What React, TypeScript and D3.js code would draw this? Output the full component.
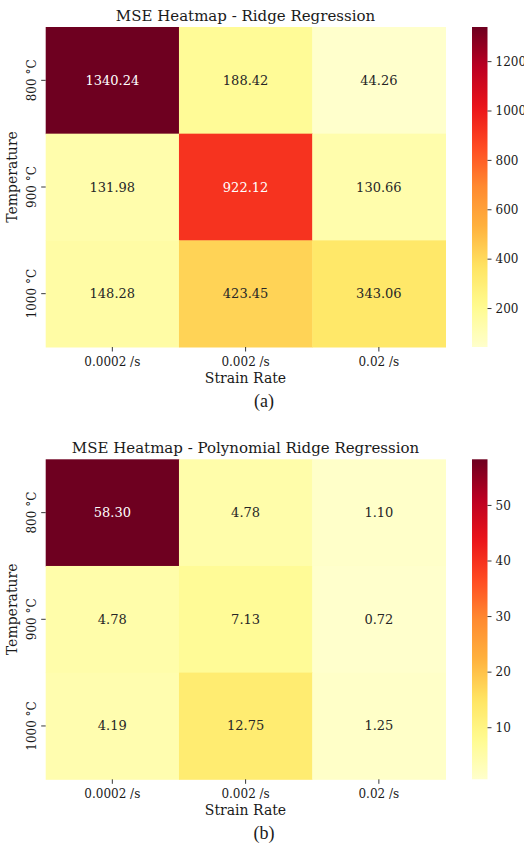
import React from "react";
import * as d3 from "d3";

const WIDTH = 524;
const HEIGHT = 853;
const FONT = "'DejaVu Serif', serif";

const strainRates = ["0.0002 /s", "0.002 /s", "0.02 /s"];
const temperatures = ["800 °C", "900 °C", "1000 °C"];

const ridgeMse = [
  [1340.24, 188.42, 44.26],
  [131.98, 922.12, 130.66],
  [148.28, 423.45, 343.06],
];
const polyRidgeMse = [
  [58.3, 4.78, 1.1],
  [4.78, 7.13, 0.72],
  [4.19, 12.75, 1.25],
];
const ridgeTicks = [200, 400, 600, 800, 1000, 1200];
const polyTicks = [10, 20, 30, 40, 50];

// YlOrRd, nudged a bit more saturated to match the printed figure
const YLORRD = [
  "#ffffcc",
  "#fffb90",
  "#ffe462",
  "#ffb23e",
  "#ff8a30",
  "#ff4a22",
  "#ea141a",
  "#bb0022",
  "#6e0020",
];

function makeColor(vmin: number, vmax: number) {
  const domain = YLORRD.map((_, i) => vmin + (i * (vmax - vmin)) / (YLORRD.length - 1));
  return d3.scaleLinear<string>().domain(domain).range(YLORRD).interpolate(d3.interpolateRgb);
}

// seaborn picks annotation colour from relative luminance
function textColor(fill: string) {
  const c = d3.rgb(fill);
  const lin = (v: number) => {
    const s = v / 255;
    return s <= 0.03928 ? s / 12.92 : Math.pow((s + 0.055) / 1.055, 2.4);
  };
  const lum = 0.2126 * lin(c.r) + 0.7152 * lin(c.g) + 0.0722 * lin(c.b);
  return lum > 0.408 ? "#262626" : "#ffffff";
}

function Heatmap({ top, title, values, ticks, caption, id }: any) {
  const left = 45.7;
  const right = 445.5;
  const h = 320;
  const bottom = top + h;

  const flat = values.flat();
  const vmin = d3.min(flat) as number;
  const vmax = d3.max(flat) as number;
  const color = makeColor(vmin, vmax);

  const x = d3.scaleBand().domain(strainRates).range([left, right]);
  const y = d3.scaleBand().domain(temperatures).range([top, bottom]);

  const cbX = 472;
  const cbW = 15.5;
  const cbScale = d3.scaleLinear().domain([vmin, vmax]).range([bottom, top]);
  const stops = d3.range(0, 1.0001, 0.02);

  return (
    <g>
      <defs>
        <linearGradient id={id} x1="0" y1="1" x2="0" y2="0">
          {stops.map((t) => (
            <stop key={t} offset={t} stopColor={color(vmin + t * (vmax - vmin))} />
          ))}
        </linearGradient>
      </defs>

      <text x={245.5} y={top - 6} textAnchor="middle" fontSize={15} fill="#1a1a1a">
        {title}
      </text>

      {values.map((row: number[], i: number) =>
        row.map((v, j) => {
          const fill = color(v);
          return (
            <g key={`${i}-${j}`}>
              <rect
                x={x(strainRates[j])}
                y={y(temperatures[i])}
                width={x.bandwidth() + 0.5}
                height={y.bandwidth() + 0.5}
                fill={fill}
              />
              <text
                x={(x(strainRates[j]) as number) + x.bandwidth() / 2}
                y={(y(temperatures[i]) as number) + y.bandwidth() / 2 + 4.5}
                textAnchor="middle"
                fontSize={13}
                fill={textColor(fill)}
              >
                {v.toFixed(2)}
              </text>
            </g>
          );
        })
      )}

      {/* x axis */}
      {strainRates.map((s) => {
        const cx = (x(s) as number) + x.bandwidth() / 2;
        return (
          <g key={s}>
            <line x1={cx} x2={cx} y1={bottom} y2={bottom + 4.5} stroke="#222" strokeWidth={0.9} />
            <text x={cx} y={bottom + 19} textAnchor="middle" fontSize={12} fill="#1a1a1a">
              {s}
            </text>
          </g>
        );
      })}
      <text x={245.5} y={bottom + 36} textAnchor="middle" fontSize={14} fill="#1a1a1a">
        Strain Rate
      </text>

      {/* y axis */}
      {temperatures.map((t) => {
        const cy = (y(t) as number) + y.bandwidth() / 2;
        return (
          <g key={t}>
            <line x1={left - 4.5} x2={left} y1={cy} y2={cy} stroke="#222" strokeWidth={0.9} />
            <text
              transform={`translate(36,${cy}) rotate(-90)`}
              textAnchor="middle"
              fontSize={12}
              fill="#1a1a1a"
            >
              {t}
            </text>
          </g>
        );
      })}
      <text
        transform={`translate(17,${top + h / 2 - 10}) rotate(-90)`}
        textAnchor="middle"
        fontSize={14}
        fill="#1a1a1a"
      >
        Temperature
      </text>

      {/* colorbar */}
      <rect x={cbX} y={top} width={cbW} height={h} fill={`url(#${id})`} />
      {ticks.map((t: number) => (
        <g key={t}>
          <line
            x1={cbX + cbW}
            x2={cbX + cbW + 4}
            y1={cbScale(t)}
            y2={cbScale(t)}
            stroke="#222"
            strokeWidth={0.9}
          />
          <text x={cbX + cbW + 8} y={cbScale(t) + 4.3} fontSize={12} fill="#1a1a1a">
            {t}
          </text>
        </g>
      ))}

      <text
        x={264}
        y={bottom + 60}
        textAnchor="middle"
        fontSize={18}
        fill="#1a1a1a"
        fontFamily="'Liberation Serif', serif"
      >
        {caption}
      </text>
    </g>
  );
}

export default function App() {
  return (
    <svg
      width={WIDTH}
      height={HEIGHT}
      style={{ position: "absolute", left: 0, top: 0, background: "#fff" }}
      fontFamily={FONT}
    >
      <rect width={WIDTH} height={HEIGHT} fill="#fff" />
      <Heatmap
        id="cb-ridge"
        top={27}
        title="MSE Heatmap - Ridge Regression"
        values={ridgeMse}
        ticks={ridgeTicks}
        caption="(a)"
      />
      <Heatmap
        id="cb-poly"
        top={459.3}
        title="MSE Heatmap - Polynomial Ridge Regression"
        values={polyRidgeMse}
        ticks={polyTicks}
        caption="(b)"
      />
    </svg>
  );
}
